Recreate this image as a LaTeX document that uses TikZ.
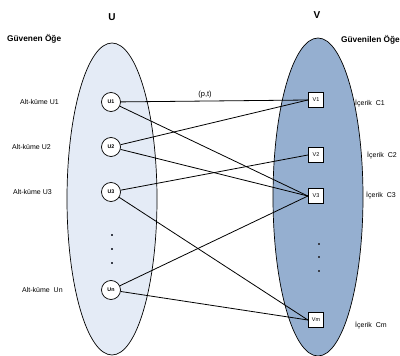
\documentclass[tikz,border=0pt]{standalone}
\usepackage{fontspec}
\setmainfont{Liberation Sans}
\definecolor{setU}{HTML}{E4EBF6}
\definecolor{setV}{HTML}{95AFD0}
\definecolor{dotgray}{HTML}{3A3F4A}
\begin{document}
\begin{tikzpicture}[x=1pt,y=-1pt,
  setshape/.style={draw=black,line width=0.7pt},
  unode/.style={circle,draw=black,fill=white,line width=0.7pt,minimum size=19pt,inner sep=0pt,font=\fontsize{5.3}{6}\selectfont\bfseries},
  vnode/.style={rectangle,draw=black,fill=white,line width=0.7pt,minimum size=15.5pt,inner sep=0pt,font=\fontsize{5.5}{6}\selectfont},
  sidelabel/.style={anchor=west,inner sep=0pt,font=\fontsize{7}{8}\selectfont},
  headlabel/.style={inner sep=0pt,font=\fontsize{8.3}{10}\selectfont\bfseries},
  setname/.style={inner sep=0pt,font=\fontsize{10}{12}\selectfont\bfseries},
  link/.style={line width=0.8pt},
  dot/.style={fill=dotgray,minimum size=1.7pt,inner sep=0pt}]
\useasboundingbox (0,0) rectangle (400,356);
\begin{scope}
\clip (0,0) rectangle (400,356);
% the two sets
\draw[setshape,fill=setU] (112,199) ellipse [x radius=45, y radius=156];
\draw[setshape,fill=setV] (318,197) ellipse [x radius=45, y radius=159];

% set names and headings
\node[setname] (nU) at (112,17) {U};
\node[setname] (nV) at (317,15) {V};
\node[headlabel,anchor=west] (hU) at (7,39) {Güvenen Öğe};
\node[headlabel,anchor=west] (hV) at (341,40) {Güvenilen Öğe};

% trusting subsets
\node[unode] (u1) at (111,102) {U1};
\node[unode] (u2) at (111,147) {U2};
\node[unode] (u3) at (111,192) {U3};
\node[unode] (un) at (111,290) {Un};

% trusted contents
\node[vnode] (v1) at (316,100) {V1};
\node[vnode] (v2) at (316,155) {V2};
\node[vnode] (v3) at (316,196) {V3};
\node[vnode] (vm) at (316,320) {Vm};

% ellipsis dots
\node[dot,rectangle] (du1) at (112,235) {};
\node[dot,rectangle] (du2) at (112,249) {};
\node[dot,rectangle] (du3) at (112,263) {};
\node[dot,rectangle] (dv1) at (319,244) {};
\node[dot,rectangle] (dv2) at (319,257) {};
\node[dot,rectangle] (dv3) at (319,271) {};

% side labels
\node[sidelabel] (l1) at (20,102) {Alt-küme U1};
\node[sidelabel] (l2) at (12,147) {Alt-küme U2};
\node[sidelabel] (l3) at (13,192) {Alt-küme U3};
\node[sidelabel] (ln) at (22,290) {Alt-küme\ \ Un};
\node[sidelabel] (r1) at (355,103) {İçerik\ \ C1};
\node[sidelabel] (r2) at (367,155) {İçerik\ \ C2};
\node[sidelabel] (r3) at (366,195) {İçerik\ \ C3};
\node[sidelabel] (rm) at (355,325) {İçerik\ \ Cm};

% trust relations
\draw[link] (u1) -- (v1.west) node[pos=0.45,above=2.5pt,inner sep=0pt,font=\fontsize{7.5}{9}\selectfont] (pt) {(p,t)};
\draw[link] (u1) -- (v3.west);
\draw[link] (u2) -- (v1.west);
\draw[link] (u2) -- (v3.west);
\draw[link] (u3) -- (v2.west);
\draw[link] (u3) -- (vm.west);
\draw[link] (un) -- (v3.west);
\draw[link] (un) -- (vm.west);
\end{scope}
\end{tikzpicture}
\end{document}
